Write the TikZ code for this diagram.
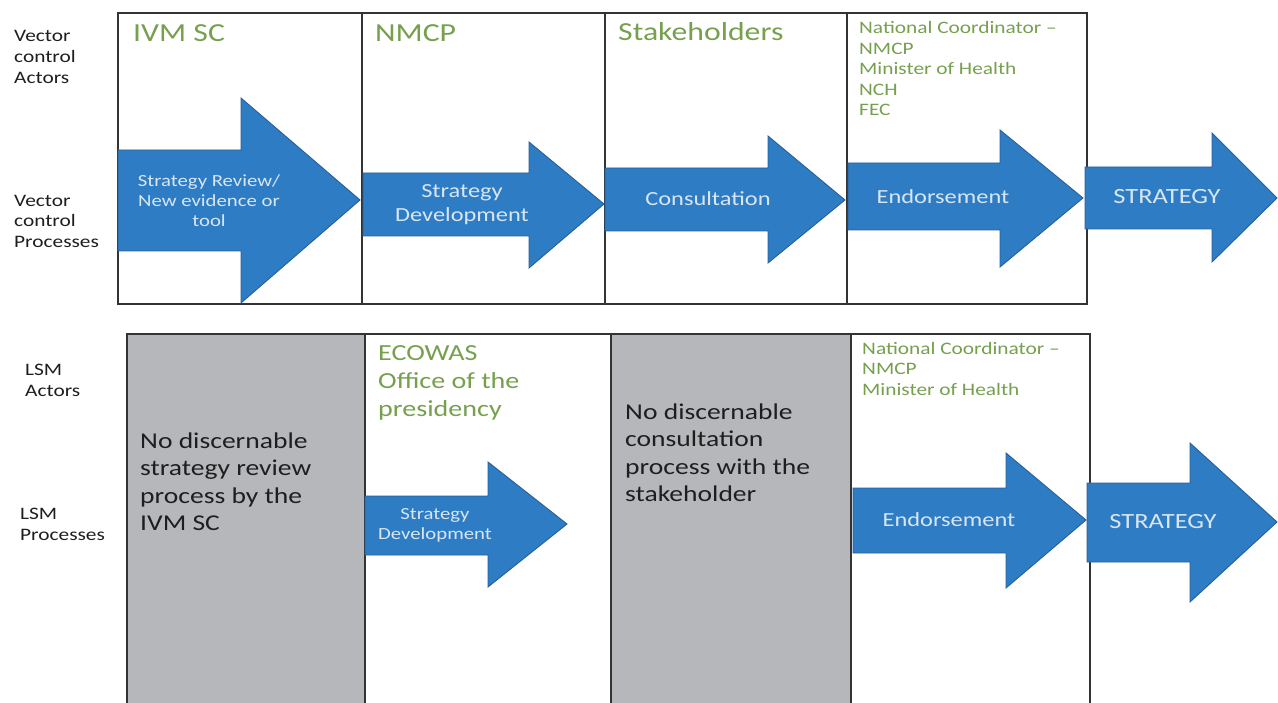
\documentclass[tikz,border=0pt]{standalone}
\usepackage{fontspec}
\setmainfont{Carlito}[FakeStretch=1.22]
\definecolor{abl}{HTML}{2E7CC4}
\definecolor{abldark}{HTML}{2A5F98}
\definecolor{atxt}{HTML}{D8E6F3}
\definecolor{grn}{HTML}{76A04E}
\definecolor{grayfill}{HTML}{B5B7BA}
\definecolor{boxline}{HTML}{333333}
\definecolor{blk}{HTML}{1E1E1E}
\newcommand{\tstr}{\rule{0pt}{0.75em}}
\newcommand{\fs}[2]{\fontsize{#1pt}{#2pt}\selectfont}
\begin{document}
\begin{tikzpicture}[x=1pt,y=-1pt,
  box/.style={draw=boxline, line width=1.4pt},
  graybox/.style={box, fill=grayfill},
  arr/.style={fill=abl, draw=abldark, line width=0.9pt, line join=miter},
  atext/.style={text=atxt, align=center, inner sep=0pt},
  lbl/.style={text=blk, anchor=north west, align=left, inner sep=0pt, font=\fs{17.5}{20.6}},
  gtitle/.style={text=grn, anchor=base west, inner sep=0pt, font=\fs{26}{31}},
  gsmall/.style={text=grn, anchor=north west, align=left, inner sep=0pt, font=\fs{17.5}{20.6}},
  graytext/.style={text=blk, anchor=north west, align=left, inner sep=0pt, font=\fs{22.6}{27.5}}
]
\useasboundingbox (0,0) rectangle (1278,703);

% ---------- top row boxes ----------
\draw[box] (118,13) rectangle (362,304);
\draw[box] (362,13) rectangle (605,304);
\draw[box] (605,13) rectangle (847,304);
\draw[box] (847,13) rectangle (1087,304);

% ---------- bottom row boxes ----------
\draw[graybox] (127,334) rectangle (365,712);
\draw[box, fill=white] (365,334) rectangle (611,712);
\draw[graybox] (611,334) rectangle (851,712);
\draw[box, fill=white] (851,334) rectangle (1090,712);

% ---------- top arrows ----------
\draw[arr] (118,150) -- (241,150) -- (241,98) -- (360,200) -- (241,303) -- (241,251) -- (118,251) -- cycle;
\draw[arr] (363,173) -- (529,173) -- (529,142) -- (604,204) -- (529,268) -- (529,236) -- (363,236) -- cycle;
\draw[arr] (605,168) -- (768,168) -- (768,136) -- (845,200) -- (768,263) -- (768,231) -- (605,231) -- cycle;
\draw[arr] (848,163) -- (1000,163) -- (1000,130) -- (1083,198) -- (1000,267) -- (1000,230) -- (848,230) -- cycle;
\draw[arr] (1085,167) -- (1212,167) -- (1212,133) -- (1277,198) -- (1212,262) -- (1212,229) -- (1085,229) -- cycle;

% ---------- bottom arrows ----------
\draw[arr] (365,496) -- (488,496) -- (488,462) -- (567,524) -- (488,587) -- (488,555) -- (365,555) -- cycle;
\draw[arr] (853,488) -- (1006,488) -- (1006,453) -- (1086,520) -- (1006,588) -- (1006,553) -- (853,553) -- cycle;
\draw[arr] (1087,483) -- (1190,483) -- (1190,443) -- (1277,522) -- (1190,602) -- (1190,562) -- (1087,562) -- cycle;

% ---------- arrow texts ----------
\node[atext, font=\fs{17}{20}] (t1) at (209,201) {Strategy Review/\\New evidence or\\tool};
\node[atext, font=\fs{20}{24}] (t2) at (462,205) {Strategy\\Development};
\node[atext, font=\fs{20}{24}] (t3) at (708,199) {Consultation};
\node[atext, font=\fs{20}{24}] (t4) at (943,197) {Endorsement};
\node[atext, font=\fs{21.7}{26}] (t5) at (1167,197) {STRATEGY};
\node[atext, font=\fs{17}{20}] (b2) at (435,525) {Strategy\\Development};
\node[atext, font=\fs{20}{24}] (b4) at (949,520) {Endorsement};
\node[atext, font=\fs{21.7}{26}] (b5) at (1163,522) {STRATEGY};

% ---------- left labels ----------
\node[lbl] (vca) at (14,28.6) {\tstr Vector\\control\\Actors};
\node[lbl] (vcp) at (14,192.9) {\tstr Vector\\control\\Processes};
\node[lbl, font=\fs{17.5}{21}] (lsma) at (25,361.9) {\tstr LSM\\Actors};
\node[lbl, font=\fs{17.5}{21}] (lsmp) at (20,505.9) {\tstr LSM\\Processes};

% ---------- green actor titles ----------
\node[gtitle] (ivm) at (133,41.5) {IVM SC};
\node[gtitle] (nmcp) at (375,41.5) {NMCP};
\node[gtitle] (stk) at (618,41) {Stakeholders};
\node[gsmall] (nc1) at (859,20.2) {\tstr National Coordinator --\\NMCP\\Minister of Health\\NCH\\FEC};
\node[gsmall, font=\fs{17.5}{20.5}] (nc2) at (862,340.9) {\tstr National Coordinator --\\NMCP\\Minister of Health};
\node[gsmall, font=\fs{23}{28}] (eco) at (378,342.75) {\tstr ECOWAS\\Office of the\\presidency};

% ---------- gray box texts ----------
\node[graytext] (g1) at (140,431.05) {\tstr No discernable\\strategy review\\process by the\\IVM SC};
\node[graytext] (g2) at (625,402.05) {\tstr No discernable\\consultation\\process with the\\stakeholder};
\end{tikzpicture}
\end{document}
